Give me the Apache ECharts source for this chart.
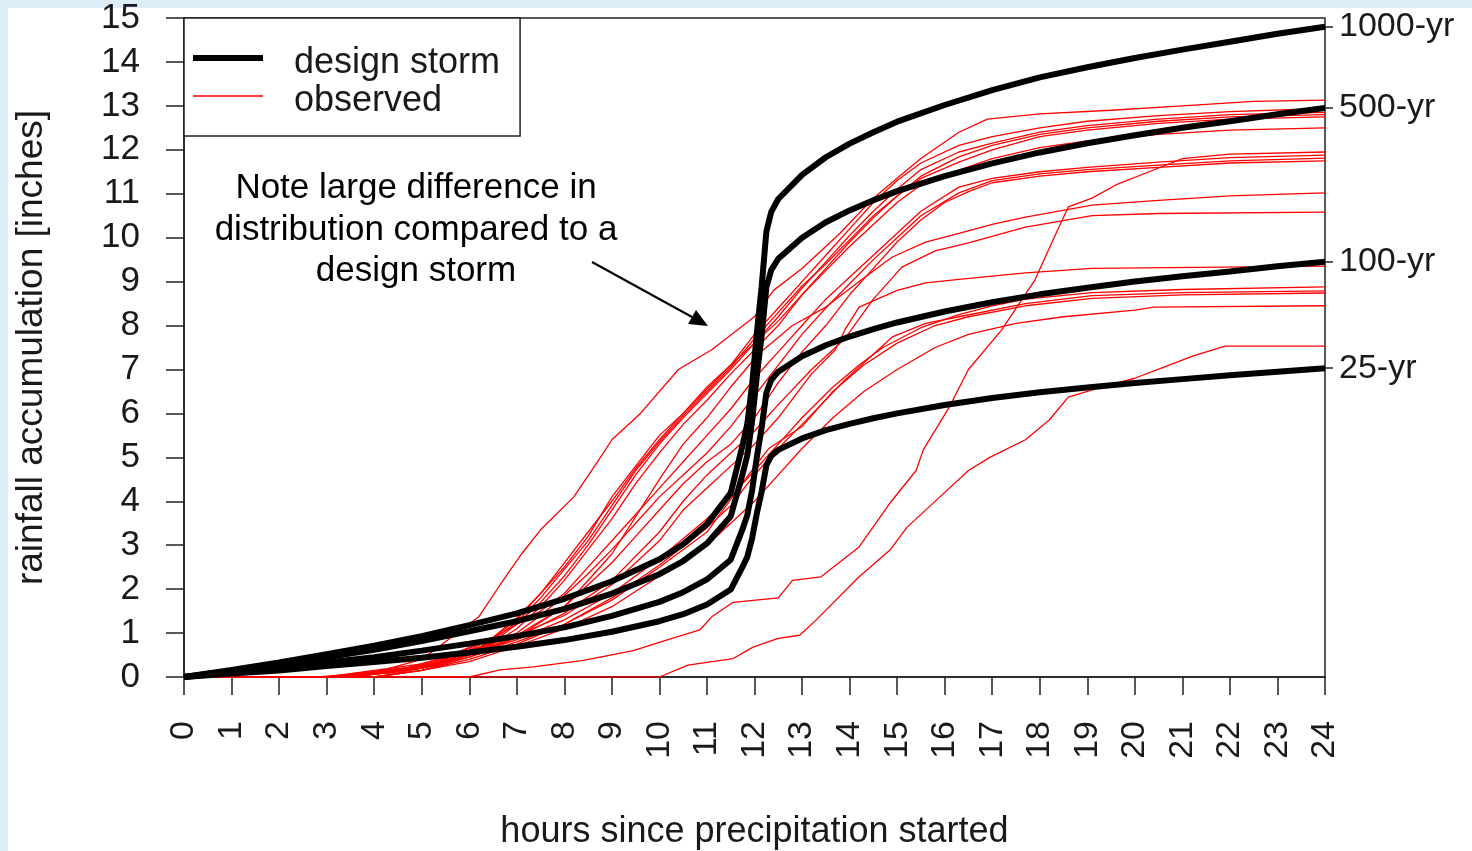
<!DOCTYPE html>
<html>
<head>
<meta charset="utf-8">
<title>Rainfall accumulation: design storms vs observed</title>
<script src="https://cdn.jsdelivr.net/npm/echarts@6/dist/echarts.min.js"></script>
<style>
  html, body { margin: 0; padding: 0; width: 1472px; height: 851px; overflow: hidden; }
  body { background: #ffffff; box-shadow: inset 8px 8px 0 0 #dcedf7; }
  #chart { position: absolute; left: 0; top: 0; width: 1472px; height: 851px; }
</style>
</head>
<body>
<div id="chart"></div>
<script>
// ---- design storm hyetograph, cumulative inches at each hour ----
const designHours = [0,1,2,3,4,5,6,7,8,9,10,10.5,11,11.5,11.75,11.85,11.95,12.05,12.15,12.25,12.35,12.5,13,13.5,14,14.5,15,16,17,18,19,20,21,22,23,24];
const design25   = [0,0.08,0.15,0.25,0.34,0.44,0.56,0.69,0.84,1.03,1.27,1.43,1.65,1.99,2.51,2.74,3.16,3.73,4.22,4.82,5.03,5.17,5.43,5.62,5.76,5.89,6.00,6.19,6.35,6.48,6.59,6.69,6.78,6.87,6.95,7.03];
const design100  = [0,0.10,0.21,0.33,0.45,0.60,0.76,0.93,1.13,1.39,1.71,1.93,2.22,2.67,3.37,3.69,4.25,5.01,5.67,6.47,6.76,6.95,7.30,7.55,7.75,7.92,8.07,8.32,8.53,8.71,8.86,9.00,9.12,9.23,9.35,9.45];
const design500  = [0,0.14,0.28,0.45,0.62,0.82,1.04,1.27,1.55,1.90,2.34,2.64,3.04,3.66,4.62,5.05,5.83,6.86,7.77,8.87,9.26,9.52,10.00,10.35,10.62,10.85,11.06,11.40,11.69,11.94,12.15,12.33,12.50,12.65,12.81,12.95];
const design1000 = [0,0.16,0.33,0.52,0.71,0.93,1.18,1.45,1.78,2.18,2.68,3.02,3.48,4.19,5.28,5.77,6.66,7.84,8.88,10.14,10.58,10.88,11.43,11.83,12.14,12.40,12.64,13.02,13.36,13.65,13.88,14.09,14.28,14.46,14.64,14.80];
const designLabels = ['25-yr', '100-yr', '500-yr', '1000-yr'];
const designTotals = [7.03, 9.45, 12.95, 14.80];

// ---- observed storms: [hour, cumulative inches] ----
const obsA = [[0,0],[2.8,0],[4,0.1],[5,0.4],[5.5,0.8],[6.2,1.37],[6.65,2.1],[7.1,2.8],[7.5,3.35],[8.2,4.1],[8.7,4.9],[9,5.4],[9.6,6.0],[10.4,7.0],[11.1,7.45],[12,8.2],[12.4,8.8],[13,9.3],[13.8,10.1],[14.5,10.9],[15,11.35],[15.5,11.8],[16.3,12.4],[16.9,12.7],[18,12.82],[19.5,12.9],[21,13.0],[22.5,13.1],[24,13.13]];
const obsB = [[0,0],[3,0],[4.5,0.15],[5.5,0.4],[6.5,0.9],[7,1.3],[7.5,1.9],[8,2.5],[8.5,3.2],[9,4.1],[9.5,4.8],[10,5.5],[10.5,6.0],[11,6.6],[11.5,7.1],[12,7.8],[12.5,8.4],[13,9.0],[13.5,9.6],[14,10.2],[14.5,10.8],[15,11.3],[15.5,11.7],[16.3,12.1],[17,12.3],[18,12.5],[19,12.65],[20.5,12.78],[22,12.87],[24,12.94]];
const obsC = [[0,0],[3.2,0],[4.5,0.12],[5.5,0.35],[6.5,0.8],[7,1.2],[7.5,1.7],[8,2.3],[8.5,3.0],[9,3.8],[9.5,4.6],[10,5.3],[10.5,5.9],[11,6.45],[11.5,7.0],[12,7.6],[12.5,8.2],[13,8.85],[13.5,9.45],[14,10.05],[14.5,10.6],[15,11.1],[15.5,11.55],[16.3,11.95],[17,12.15],[18,12.4],[19,12.55],[20.5,12.7],[22,12.8],[24,12.85]];
const obsD = [[0,0],[3,0],[4.5,0.1],[5.5,0.3],[6.5,0.75],[7,1.1],[7.5,1.6],[8,2.2],[8.5,2.9],[9,3.6],[9.5,4.4],[10,5.1],[10.5,5.75],[11,6.3],[11.5,6.9],[12,7.45],[12.5,8.0],[13,8.7],[13.5,9.3],[14,9.9],[14.5,10.45],[15,10.95],[15.5,11.4],[16.3,11.84],[17,12.1],[18,12.35],[19,12.5],[20.5,12.65],[22,12.75],[24,12.8]];
const obsE = [[0,0],[3.5,0],[5,0.2],[6,0.55],[6.5,0.85],[7,1.25],[7.5,1.8],[8,2.45],[8.5,3.1],[9,3.9],[9.5,4.7],[10,5.35],[10.5,5.95],[11,6.5],[11.5,7.05],[12,7.7],[12.5,8.3],[13,8.9],[13.5,9.4],[14,9.95],[14.5,10.5],[15,10.95],[15.5,11.35],[16.3,11.72],[17,12.0],[18,12.3],[19,12.45],[20.5,12.6],[22,12.7],[24,12.75]];
const obsF = [[0,0],[3.3,0],[5,0.25],[6,0.6],[6.5,0.9],[7,1.35],[7.5,1.9],[8,2.6],[8.5,3.3],[9,4.0],[9.5,4.75],[10,5.4],[10.5,6.0],[11,6.55],[11.5,7.1],[12,7.6],[12.5,8.1],[13,8.7],[13.5,9.25],[14,9.8],[14.5,10.3],[15,10.8],[15.5,11.2],[16.3,11.54],[17,11.8],[18,12.05],[19,12.2],[20.5,12.35],[22,12.45],[24,12.5]];
const obsG = [[0,0],[3,0],[4.5,0.15],[5.5,0.45],[6.5,0.9],[7.5,1.5],[8,1.9],[8.5,2.5],[9,3.1],[9.5,3.7],[10,4.3],[10.5,4.9],[11,5.5],[11.5,6.1],[12,6.8],[12.5,7.4],[13,8.0],[13.5,8.6],[14,9.1],[14.5,9.6],[15,10.1],[15.5,10.6],[16.3,11.15],[17,11.35],[18,11.5],[19,11.6],[20.5,11.72],[22,11.82],[24,11.88]];
const obsH = [[0,0],[3.5,0],[5,0.2],[6,0.55],[7,1.0],[7.5,1.4],[8,1.85],[8.5,2.35],[9,2.9],[9.5,3.5],[10,4.1],[10.5,4.6],[11,5.1],[11.5,5.7],[12,6.4],[12.5,7.1],[13,7.8],[13.5,8.4],[14,8.95],[14.5,9.5],[15,10.0],[15.5,10.5],[16.3,11.02],[17,11.3],[18,11.45],[19,11.55],[20.5,11.65],[22,11.75],[24,11.81]];
const obsI = [[0,0],[4,0],[5,0.15],[6,0.45],[7,0.9],[8,1.6],[8.5,2.1],[9,2.6],[9.5,3.2],[10,3.8],[10.5,4.4],[11,4.9],[11.5,5.3],[12,5.9],[12.5,6.7],[13,7.4],[13.5,8.0],[14,8.7],[14.5,9.3],[15,9.9],[15.5,10.4],[16,10.8],[16.5,11.05],[17,11.25],[18,11.4],[19,11.5],[20.5,11.6],[22,11.7],[24,11.75]];
const obsJ = [[0,0],[3.5,0],[5,0.2],[6,0.5],[7,0.95],[8,1.6],[9,2.8],[10,4.5],[10.5,5.3],[11,5.9],[11.5,6.6],[12.1,7.37],[12.8,8.0],[13.5,8.42],[14.2,9.0],[14.9,9.56],[15.6,9.9],[16.3,10.1],[17,10.3],[17.7,10.47],[19.1,10.74],[20.5,10.85],[22,10.95],[24,11.02]];
const obsK = [[0,0],[3.5,0],[5,0.2],[6,0.5],[7,0.9],[8,1.45],[9,2.2],[10,3.3],[10.5,4.0],[11,4.6],[11.5,5.1],[12,5.6],[12.5,6.2],[13.2,7.0],[13.9,7.7],[14.5,8.6],[15.1,9.33],[15.8,9.7],[16.5,9.88],[17.7,10.24],[19.1,10.5],[20.5,10.55],[24,10.58]];
const obsL = [[0,0],[3,0],[5,0.3],[6,0.6],[7,0.95],[8,1.4],[9,2.1],[10,3.1],[10.5,3.8],[11,4.3],[11.5,4.8],[12,5.3],[12.5,5.9],[13.2,6.9],[13.7,7.45],[13.9,7.9],[14.2,8.42],[15,8.8],[15.6,8.97],[16.3,9.05],[17.7,9.2],[19.1,9.3],[24,9.35]];
const obsM = [[0,0],[3,0],[5,0.25],[6,0.5],[7,0.85],[8,1.3],[9,1.9],[10,2.7],[11,3.6],[11.5,4.1],[12,4.7],[12.5,5.3],[13,5.9],[13.65,6.6],[14.2,7.1],[14.7,7.5],[15.5,7.95],[16.3,8.25],[17,8.45],[17.7,8.6],[19.1,8.75],[21,8.82],[24,8.88]];
const obsN = [[0,0],[3.5,0],[5,0.2],[6,0.45],[7,0.8],[8,1.2],[9,1.8],[10,2.55],[11,3.4],[11.5,3.9],[12,4.6],[12.5,5.2],[13,5.75],[13.9,6.76],[14.9,7.74],[15.6,8.05],[16.3,8.2],[17.7,8.5],[19.1,8.68],[21,8.75],[24,8.79]];
const obsO = [[0,0],[4,0],[5,0.15],[6,0.4],[7,0.75],[8,1.2],[9,1.75],[10,2.5],[11,3.3],[11.9,4.64],[12.3,5.2],[13,5.7],[13.65,6.5],[14.3,7.1],[15,7.6],[15.8,8.0],[16.5,8.2],[17.7,8.45],[19.1,8.62],[21,8.7],[24,8.74]];
const obsP = [[0,0],[4,0],[5,0.15],[6,0.35],[7,0.7],[8,1.1],[9,1.6],[10,2.3],[11,3.0],[12,4.0],[12.5,4.6],[13,5.2],[13.65,5.9],[14.3,6.5],[15,7.0],[15.8,7.5],[16.5,7.8],[17.5,8.05],[18.5,8.2],[20,8.35],[20.4,8.42],[24,8.45]];
const obsLateSteep = [[0,0],[6,0],[6.65,0.16],[7.35,0.23],[8.4,0.38],[9.45,0.6],[10.15,0.84],[10.85,1.07],[11.1,1.37],[11.55,1.7],[12.5,1.8],[12.8,2.2],[13.4,2.28],[14.2,2.96],[14.85,3.96],[15.4,4.7],[15.55,5.17],[16.1,6.15],[16.5,7.0],[17.2,7.9],[17.9,9.04],[18.3,10.0],[18.6,10.7],[19.1,10.9],[19.6,11.2],[20.3,11.5],[21,11.8],[22,11.9],[24,11.95]];
const obsLate = [[0,0],[10,0],[10.6,0.27],[11.55,0.42],[11.97,0.68],[12.5,0.88],[12.95,0.95],[13.3,1.3],[14.2,2.28],[14.85,2.89],[15.2,3.4],[15.9,4.1],[16.5,4.7],[16.95,5.0],[17.7,5.4],[18.2,5.85],[18.6,6.37],[19.3,6.6],[20,6.8],[20.6,7.05],[21.2,7.3],[21.9,7.53],[24,7.53]];

const observedRuns = [obsA, obsB, obsC, obsD, obsE, obsF, obsG, obsH, obsI, obsJ, obsK, obsL, obsM, obsN, obsO, obsP, obsLateSteep, obsLate];
const designRuns = [design25, design100, design500, design1000];

const hourTicks = Array.from({ length: 25 }, (_, i) => i);
const inchTicks = Array.from({ length: 16 }, (_, i) => i);

const FONT = '"Liberation Sans", Arial, Helvetica, sans-serif';
const INK = '#1a1a1a';

const chart = echarts.init(document.getElementById('chart'), null, { renderer: 'canvas' });

const series = [];
observedRuns.forEach((run) => {
  series.push({
    name: 'observed',
    type: 'line',
    data: run,
    symbol: 'none',
    silent: true,
    z: 2,
    lineStyle: { color: '#ff0000', width: 1.3 },
    itemStyle: { color: '#ff0000' }
  });
});
designRuns.forEach((vals, k) => {
  series.push({
    name: 'design storm',
    type: 'line',
    data: designHours.map((h, i) => [h, vals[i]]),
    symbol: 'none',
    silent: true,
    z: 3,
    lineStyle: { color: '#000000', width: 6 },
    itemStyle: { color: '#000000' },
    endLabel: {
      show: true,
      formatter: designLabels[k],
      distance: 14,
      color: INK,
      fontFamily: FONT,
      fontSize: 34
    }
  });
});

const axisInk = { color: '#222', width: 1.5 };

chart.setOption({
  animation: false,
  backgroundColor: 'transparent',
  textStyle: { fontFamily: FONT },
  grid: {
    left: 184, right: 147, top: 18, bottom: 174,
    outerBoundsMode: 'none',
    containLabel: false,
    show: true, borderColor: '#222', borderWidth: 1.5, backgroundColor: 'transparent'
  },
  legend: {
    // legend swatches sit slightly above the text's centre line
    data: [
      { name: 'design storm', icon: 'path://M0,0H70V6H0Z M0,16H0.01V16.01H0Z' },
      { name: 'observed', icon: 'path://M0,0H70V1.4H0Z M0,11.4H0.01V11.41H0Z' }
    ],
    orient: 'vertical',
    left: 184, top: 18,
    padding: [26, 20, 16, 9],
    itemGap: 0,
    itemWidth: 70,
    itemHeight: 38,
    symbolKeepAspect: true,
    borderColor: '#222',
    borderWidth: 1.5,
    backgroundColor: '#ffffff',
    selectedMode: false,
    textStyle: { fontFamily: FONT, fontSize: 36, lineHeight: 38, color: INK, padding: [0, 0, 0, 26] }
  },
  xAxis: {
    type: 'value',
    min: 0, max: 24, interval: 1,
    name: 'hours since precipitation started',
    nameLocation: 'middle',
    nameGap: 137,
    nameTextStyle: { fontFamily: FONT, fontSize: 36, color: INK },
    axisLine: { show: true, lineStyle: axisInk },
    axisTick: { show: true, length: 18, lineStyle: axisInk },
    axisLabel: {
      rotate: 90, margin: 44, fontSize: 34, color: INK, fontFamily: FONT,
      formatter: (v) => String(hourTicks[v])
    },
    splitLine: { show: false }
  },
  yAxis: [
    {
      type: 'value',
      min: 0, max: 15, interval: 1,
      name: 'rainfall accumulation [inches]',
      nameLocation: 'middle',
      nameGap: 134,
      nameRotate: 90,
      nameTextStyle: { fontFamily: FONT, fontSize: 37, color: INK },
      axisLine: { show: true, lineStyle: axisInk },
      axisTick: { show: true, length: 18, lineStyle: axisInk },
      axisLabel: {
        margin: 44, fontSize: 35, color: INK, fontFamily: FONT,
        formatter: (v) => String(inchTicks[v])
      },
      splitLine: { show: false }
    },
    {
      // short marks on the right frame at each design storm's 24-hour total
      type: 'value',
      position: 'right',
      min: 0, max: 15, interval: 1,
      axisLine: { show: false },
      axisTick: { show: true, length: 8, customValues: designTotals, lineStyle: axisInk },
      axisLabel: { show: false },
      splitLine: { show: false }
    }
  ],
  graphic: [
    {
      type: 'text', z: 10,
      style: {
        x: 416, y: 168, text: 'Note large difference in\ndistribution compared to a\ndesign storm',
        font: '35px ' + FONT, fill: '#000', align: 'center', textAlign: 'center',
        verticalAlign: 'top', lineHeight: 41.5
      }
    },
    {
      type: 'line', z: 10,
      shape: { x1: 592, y1: 262, x2: 692, y2: 317 },
      style: { stroke: '#000', lineWidth: 2 }
    },
    {
      type: 'polygon', z: 10,
      shape: { points: [[708, 326], [688, 324], [696, 310]] },
      style: { fill: '#000' }
    }
  ],
  series: series
});
</script>
</body>
</html>
